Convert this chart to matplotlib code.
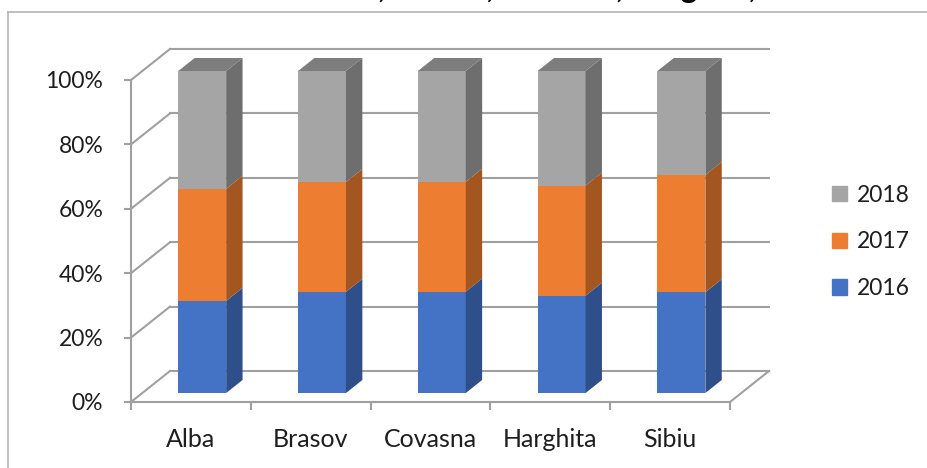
import matplotlib
matplotlib.use('Agg')
import matplotlib.pyplot as plt
from matplotlib.patches import Polygon, Patch
from matplotlib.lines import Line2D
import numpy as np

counties = ['Alba', 'Brasov', 'Covasna', 'Harghita', 'Sibiu']
years = ['2016', '2017', '2018']
share_2016 = [28.6, 31.4, 31.5, 30.2, 31.3]
share_2017 = [34.8, 34.1, 34.1, 34.2, 36.4]
share_2018 = [36.6, 34.5, 34.4, 35.6, 32.3]
series = [share_2016, share_2017, share_2018]

face = ['#4472C4', '#ED7D31', '#A5A5A5']
side = ['#2E4F8A', '#A3561F', '#6E6E6E']
top_col = '#7D7D7D'
grid = '#A0A0A0'
txt = '#1E1E1E'

plt.rcParams['font.family'] = ['Lato', 'DejaVu Sans']

W, H = 928, 468
fig = plt.figure(figsize=(W / 100, H / 100), dpi=100)
ax = fig.add_axes([131 / W, (H - 402) / H, (730 - 131) / W, (402 - 80) / H])
ax.set_xlim(-0.5, 4.5)
ax.set_ylim(0, 100)

# depth of the 3d box, in data units
DX = 39 / 119.8
DY = 31 / 3.22
z0, z1 = 0.29, 0.71
bw = 0.40

# back wall, side wall and floor lines
for v in range(0, 101, 20):
    ax.plot([-0.5 + DX, 4.5 + DX], [v + DY, v + DY], color=grid, lw=1.5, clip_on=False, zorder=1)
    ax.plot([-0.5, -0.5 + DX], [v, v + DY], color=grid, lw=1.5, clip_on=False, zorder=1)
ax.plot([4.5, 4.5 + DX], [0, DY], color=grid, lw=1.5, clip_on=False, zorder=1)

for s in ['top', 'right']:
    ax.spines[s].set_visible(False)
for s in ['left', 'bottom']:
    ax.spines[s].set_color(grid)
    ax.spines[s].set_linewidth(1.5)

ax.set_yticks(range(0, 101, 20))
ax.set_yticklabels([f'{v}%' for v in range(0, 101, 20)])
ax.set_xticks(np.arange(5))
ax.set_xticklabels(counties)
ax.set_xticks(np.arange(-0.5, 5, 1), minor=True)
ax.tick_params(axis='y', length=5, width=1.5, color=grid, pad=15, labelsize=16.5, labelcolor=txt)
ax.tick_params(axis='x', which='major', length=0, pad=19, labelsize=18, labelcolor=txt)
ax.tick_params(axis='x', which='minor', length=6, width=1.5, color=grid)

x = np.arange(len(counties))
xf = x + z0 * DX
ddx = (z1 - z0) * DX
ddy = (z1 - z0) * DY
bottoms = np.zeros(len(counties))
for k, vals in enumerate(series):
    vals = np.array(vals)
    ax.bar(xf, vals, bw, bottom=bottoms + z0 * DY, color=face[k], lw=0, zorder=3, clip_on=False)
    for i in range(len(counties)):
        xr = xf[i] + bw / 2
        b = bottoms[i] + z0 * DY
        t = b + vals[i]
        ax.add_patch(Polygon([(xr, b), (xr + ddx, b + ddy), (xr + ddx, t + ddy), (xr, t)],
                             closed=True, fc=side[k], lw=0, zorder=3, clip_on=False))
    bottoms += vals

for i in range(len(counties)):
    xl = xf[i] - bw / 2
    xr = xf[i] + bw / 2
    t = bottoms[i] + z0 * DY
    ax.add_patch(Polygon([(xl, t), (xr, t), (xr + ddx, t + ddy), (xl + ddx, t + ddy)],
                         closed=True, fc=top_col, lw=0, zorder=3, clip_on=False))

handles = [Patch(color=face[k]) for k in [2, 1, 0]]
fig.legend(handles, [years[k] for k in [2, 1, 0]], loc='center left',
           bbox_to_anchor=(811 / W, (H - 242) / H), frameon=False, fontsize=16.5,
           handlelength=0.65, handleheight=0.65, handletextpad=0.45, labelspacing=1.12,
           labelcolor=txt)

# chart frame (only top and left edges are in view)
fig.add_artist(Line2D([8 / W, 1], [(H - 12) / H] * 2, transform=fig.transFigure, color='#B4B4B4', lw=1.2))
fig.add_artist(Line2D([8 / W, 8 / W], [0, (H - 12) / H], transform=fig.transFigure, color='#B4B4B4', lw=1.2))

# title cut off at the top of the picture
fig.text(317 / W, 1 + 2 / H, 'Alba, Brasov, Covasna, Harghita, Sibiu', fontsize=22,
         fontweight='bold', va='baseline', color='black')

fig.savefig('out.png', dpi=100)
